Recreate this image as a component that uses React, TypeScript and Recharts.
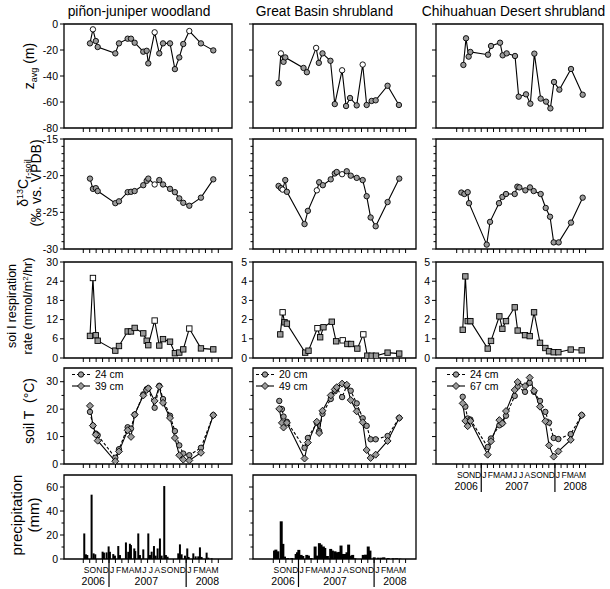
import React from 'react';
import { ComposedChart, Line, Bar, XAxis, YAxis, ReferenceArea, Legend } from 'recharts';

const FONT = '"Liberation Sans", Arial, Helvetica, sans-serif';

// ---------------- labels / ticks ----------------
const columnTitles = ['piñon-juniper woodland', 'Great Basin shrubland', 'Chihuahuan Desert shrubland'];
// x = months since 1 Jan 2006 (8 = 1 Sep 2006)
const monthBoundaries = [8, 9, 10, 11, 12, 13, 14, 15, 16, 17, 18, 19, 20, 21, 22, 23, 24, 25, 26, 27, 28, 29];
const monthCenters = [8.5, 9.5, 10.5, 11.5, 12.5, 13.5, 14.5, 15.5, 16.5, 17.5, 18.5, 19.5, 20.5, 21.5, 22.5, 23.5, 24.5, 25.5, 26.5, 27.5, 28.5];
const monthLetters = ['S', 'O', 'N', 'D', 'J', 'F', 'M', 'A', 'M', 'J', 'J', 'A', 'S', 'O', 'N', 'D', 'J', 'F', 'M', 'A', 'M'];
const yearLabels = ['2006', '2007', '2008'];
const yearCenters = [9.55, 17.8, 27.3];
const yearBreaks = [12, 24];

const zTicks = [0, -20, -40, -60, -80];
const d13cMajorTicks = [-15, -20, -25, -30];
const d13cMinorTicks = [-16, -17, -18, -19, -21, -22, -23, -24, -26, -27, -28, -29];
const pjRespTicks = [0, 6, 12, 18, 24, 30];
const respTicks = [0, 1, 2, 3, 4, 5];
const tempMajorTicks = [0, 10, 20, 30];
const tempMinorTicks = [5, 15, 25];
const rainMajorTicks = [0, 20, 40, 60];
const rainMinorTicks = [10, 30, 50];

// ---------------- piñon-juniper woodland ----------------
const pjDates = [9.04, 9.5, 9.95, 10.24, 12.98, 13.55, 14.9, 15.42, 15.99, 17.33, 17.86, 18.11, 19.1, 19.82, 20.4, 21.49, 22.25, 22.93, 23.55, 24.49, 26.3, 28.22];
const pjZavg = [-14.9, -4.1, -13.1, -17.7, -22.6, -14.9, -11.3, -11.3, -14.4, -21.3, -20.6, -30.3, -6.4, -22.6, -14.9, -14.9, -34.7, -25.7, -15.4, -5.4, -14.9, -20.3];
const pjZavgOpen = [1, 12, 19];
const pjD13C = [-20.4, -21.8, -21.7, -22.1, -23.75, -23.5, -22.25, -22.2, -22.1, -21.3, -20.7, -20.4, -21.2, -20.6, -21.2, -21.8, -22.25, -23.1, -23.7, -24.1, -23.0, -20.5];
const pjD13COpen = [12];
const pjResp = [6.9, 25, 7.1, 5.4, 2.3, 3.75, 8.3, 8.3, 9.4, 7.7, 5.4, 4.0, 11.7, 3.9, 5.9, 5.1, 1.5, 1.7, 2.7, 9.2, 3.0, 2.7];
const pjRespOpen = [1, 12, 19];
const pjT24 = [19.0, 14.0, 11.1, 10.5, 2.3, 5.4, 13.4, 12.9, 18.0, 25.4, 27.3, 27.6, 20.5, 28.5, 23.7, 17.6, 12.0, 6.8, 3.8, 3.2, 5.9, 17.8];
const pjT39 = [21.2, 14.0, 10.7, 8.5, 1.0, 4.6, 12.3, 9.9, 18.0, 25.0, 27.0, 27.6, 23.0, 28.3, 22.3, 16.8, 9.5, 3.2, 1.6, 1.3, 4.1, 17.8];
const pjRainX = [8.16, 8.42, 8.63, 9.30, 9.61, 9.87, 11.01, 11.22, 11.63, 11.95, 12.15, 12.67, 12.93, 13.45, 13.71, 14.64, 15.0, 15.26, 15.42, 15.94, 16.09, 16.56, 16.82, 17.34, 18.12, 18.38, 18.64, 19.0, 19.26, 19.57, 19.93, 20.19, 20.60, 20.86, 21.12, 22.78, 23.04, 23.30, 23.82, 24.18, 24.39, 25.12, 25.48, 25.89, 26.15, 26.41, 27.19, 27.45, 27.97];
const pjRain = [21.3, 3.9, 3.3, 53.6, 4.7, 3.9, 6.1, 5.3, 5.5, 10.5, 6.0, 4.1, 2.8, 10.8, 3.3, 13.8, 6.0, 12.7, 11.6, 8.8, 6.6, 21.3, 3.3, 8.0, 21.3, 3.3, 6.1, 10.8, 2.8, 8.8, 17.1, 2.8, 60.8, 3.3, 1.9, 4.7, 12.2, 3.9, 2.8, 8.8, 1.7, 4.7, 2.2, 2.2, 9.7, 1.7, 5.3, 1.1, 0.6];

// ---------------- Great Basin shrubland ----------------
const gbZavgX = [8.84, 9.21, 9.63, 9.90, 12.80, 13.33, 14.80, 15.23, 15.81, 17.07, 17.76, 18.92, 19.55, 20.18, 21.24, 22.19, 22.82, 23.61, 24.25, 26.14, 27.94];
const gbZavg = [-45.5, -22.6, -29.1, -25.7, -33.8, -37.1, -18.4, -29.9, -22.6, -28.3, -61.6, -35.6, -63.1, -56.9, -62.6, -31.2, -62.3, -59.2, -58.7, -47.5, -62.3];
const gbZavgOpen = [1, 6, 11, 15];
const gbD13CX = [8.84, 9.21, 9.48, 9.90, 10.16, 12.96, 13.49, 14.91, 15.28, 15.86, 17.12, 17.76, 18.07, 18.92, 19.66, 20.29, 21.24, 22.19, 22.82, 23.45, 24.25, 26.14, 27.99];
const gbD13C = [-21.4, -21.7, -21.9, -20.6, -22.2, -26.6, -24.8, -22.0, -20.9, -21.3, -20.5, -19.7, -19.5, -19.8, -19.4, -20.0, -20.3, -20.6, -22.8, -25.7, -26.9, -23.6, -20.4];
const gbD13COpen = [2, 7, 13];
const gbRespX = [9.11, 9.48, 9.79, 10.16, 13.06, 13.59, 15.01, 15.44, 15.96, 17.28, 17.97, 19.02, 19.76, 20.34, 21.34, 22.29, 22.93, 23.61, 24.30, 26.14, 27.99];
const gbResp = [1.23, 2.38, 1.86, 1.79, 0.28, 0.38, 1.55, 1.08, 1.6, 1.89, 0.87, 0.92, 0.73, 0.73, 0.49, 1.23, 0.12, 0.12, 0.12, 0.28, 0.23];
const gbRespOpen = [1, 6, 11, 15];
const gbTX = [8.95, 9.37, 9.63, 10.16, 12.96, 13.49, 14.91, 15.28, 15.81, 17.12, 17.76, 18.07, 18.92, 19.66, 20.29, 21.24, 22.19, 22.82, 23.45, 24.25, 26.14, 27.99];
const gbT20 = [23.0, 20.0, 17.3, 15.4, 5.9, 9.5, 15.0, 12.0, 18.3, 23.7, 26.5, 27.8, 24.4, 28.5, 26.7, 22.1, 16.7, 13.9, 9.0, 9.0, 10.2, 16.8];
const gbT49 = [20.1, 15.0, 13.3, 15.0, 2.0, 7.8, 15.4, 11.3, 19.4, 25.0, 27.2, 28.0, 29.3, 28.9, 23.3, 19.2, 15.2, 5.1, 2.2, 3.4, 8.4, 16.8];
const gbRainX = [8.21, 8.42, 8.74, 9.27, 9.53, 9.79, 10.32, 10.95, 11.64, 11.85, 12.06, 12.43, 12.69, 13.33, 13.59, 14.01, 14.65, 14.91, 15.33, 15.59, 15.96, 16.18, 16.60, 17.12, 17.39, 17.81, 18.07, 18.44, 18.76, 19.02, 19.39, 19.71, 19.97, 20.29, 20.61, 20.97, 22.29, 22.66, 23.08, 23.35, 24.03, 24.67, 25.19, 25.56, 26.25, 27.04, 27.57, 28.10];
const gbRain = [7.0, 7.8, 6.4, 31.4, 12.6, 2.0, 0.8, 0.8, 4.2, 5.6, 7.6, 3.4, 2.5, 3.4, 2.8, 0.8, 10.4, 2.8, 13.2, 12.0, 10.4, 9.2, 2.5, 8.4, 7.0, 6.4, 5.6, 5.9, 11.2, 4.2, 4.2, 5.6, 12.0, 2.8, 3.4, 0.6, 3.4, 3.6, 10.4, 7.0, 1.4, 1.1, 1.1, 1.4, 0.8, 0.6, 0.6, 0.3];

// ---------------- Chihuahuan Desert shrubland ----------------
const cdZavgX = [9.09, 9.52, 9.95, 10.23, 13.10, 13.59, 15.06, 15.49, 16.14, 17.50, 18.10, 19.29, 20.0, 20.65, 21.68, 22.55, 23.26, 23.85, 24.72, 26.62, 28.52];
const cdZavg = [-31.5, -11.0, -25.1, -21.5, -23.6, -16.9, -14.4, -24.1, -22.6, -24.6, -55.9, -54.1, -61.3, -22.8, -57.4, -59.7, -64.9, -44.6, -50.5, -34.6, -54.4];
const cdD13CX = [8.76, 9.25, 9.79, 10.01, 12.89, 13.43, 14.89, 15.44, 16.03, 17.45, 17.88, 18.21, 19.18, 19.94, 20.54, 21.68, 22.5, 23.2, 23.8, 24.61, 26.62, 28.52];
const cdD13C = [-22.3, -22.5, -22.25, -23.75, -29.4, -26.3, -23.75, -22.9, -22.5, -22.5, -21.5, -21.6, -22.0, -21.6, -22.1, -22.5, -24.4, -25.6, -29.1, -29.1, -26.4, -23.0];
const cdRespX = [8.98, 9.41, 9.79, 10.23, 13.05, 13.59, 14.95, 15.44, 16.03, 17.45, 17.93, 19.13, 19.89, 20.6, 21.57, 22.44, 23.04, 23.80, 24.56, 26.57, 28.36];
const cdResp = [1.47, 4.25, 1.92, 1.92, 0.49, 0.89, 2.17, 1.52, 1.92, 2.64, 1.43, 1.19, 1.14, 2.38, 0.79, 0.52, 0.35, 0.30, 0.30, 0.44, 0.40];
const cdTX = [8.98, 9.41, 9.79, 10.23, 13.05, 13.59, 14.95, 15.44, 16.03, 17.45, 17.93, 19.13, 19.89, 20.6, 21.57, 22.44, 23.04, 23.80, 24.56, 26.57, 28.36];
const cdT24 = [24.5, 20.9, 16.6, 16.2, 6.2, 9.3, 14.1, 15.0, 17.6, 24.8, 28.2, 26.3, 29.6, 26.3, 23.0, 19.0, 15.1, 9.5, 9.1, 10.9, 17.8];
const cdT67 = [22.1, 15.7, 13.8, 15.7, 3.4, 8.3, 16.0, 14.8, 19.3, 27.0, 29.9, 28.4, 31.5, 26.7, 20.9, 15.6, 6.8, 2.7, 4.6, 8.8, 17.8];

// ---------------- helpers ----------------
type Pt = { x: number; y: number; open: boolean };
const pts = (xs: number[], ys: number[], open: number[] = []): Pt[] =>
  xs.map((x, i) => ({ x, y: ys[i], open: open.includes(i) }));
const rain = (xs: number[], vs: number[]) => xs.map((x, i) => ({ x, v: vs[i] }));

// ---------------- layout ----------------
const ML = 64;
const MR = 7;
const colX = [[64, 232], [253, 416], [436, 603]];
const rowY = [[24, 128], [139, 249], [262, 358], [368, 464], [475, 559]];
const xDomains: [number, number][] = [[5.0, 31.13], [4.78, 30.65], [4.63, 31.83]];
const titleShift = [-9, -10, -6];

type Shape = 'circle' | 'square' | 'diamond';

function Marker({ cx, cy, shape, open }: { cx: number; cy: number; shape: Shape; open?: boolean }) {
  if (cx == null || cy == null || isNaN(cx) || isNaN(cy)) return null;
  const fill = open ? '#ffffff' : '#9a9a9a';
  if (shape === 'square') {
    return <rect x={cx - 2.7} y={cy - 2.7} width={5.4} height={5.4} fill={fill} stroke="#000" strokeWidth={0.9} />;
  }
  if (shape === 'diamond') {
    const s = 3.5;
    return (
      <polygon
        points={`${cx},${cy - s} ${cx + s},${cy} ${cx},${cy + s} ${cx - s},${cy}`}
        fill={fill}
        stroke="#000"
        strokeWidth={0.9}
      />
    );
  }
  return <circle cx={cx} cy={cy} r={2.7} fill={fill} stroke="#000" strokeWidth={0.9} />;
}

const TickMark = (p: any) => <line x1={p.x} x2={p.x} y1={p.y} y2={p.y + 4} stroke="#000" strokeWidth={1} />;
const MonthLabel = (p: any) => (
  <text x={p.x} y={p.y + 12.5} textAnchor="middle" fontSize={8.5} fontFamily={FONT} fill="#000">
    {monthLetters[monthCenters.indexOf(p.payload.value)]}
  </text>
);
const YearLabel = (p: any) => (
  <text x={p.x} y={p.y + 23} textAnchor="middle" fontSize={10.5} fontFamily={FONT} fill="#000">
    {yearLabels[yearCenters.indexOf(p.payload.value)]}
  </text>
);
const BreakLine = (p: any) => <line x1={p.x} x2={p.x} y1={p.y - 3} y2={p.y + 26} stroke="#000" strokeWidth={1.2} />;

const makeYTick = (major: number[], showLabels: boolean) => (p: any) => {
  const v = p.payload.value;
  const isMajor = major.includes(v);
  const len = isMajor ? 4 : 2.5;
  return (
    <g>
      <line x1={p.x - len} x2={p.x} y1={p.y} y2={p.y} stroke="#000" strokeWidth={1} />
      {isMajor && showLabels ? (
        <text x={p.x - len - 2} y={p.y} dy="0.35em" textAnchor="end" fontSize={10.5} fontFamily={FONT} fill="#000">
          {v}
        </text>
      ) : null}
    </g>
  );
};

const makeBarShape = (w: number) => (p: any) => {
  if (p.height == null || isNaN(p.height) || p.height <= 0) return <g />;
  return <rect x={p.x + p.width / 2 - w / 2} y={p.y} width={w} height={p.height} fill="#000" />;
};

type Series = { data: Pt[]; shape: Shape; dashed?: boolean };
type LegendItem = { label: string; shape: Shape; dashed: boolean };

function LegendBox({ items }: { items: LegendItem[] }) {
  return (
    <svg width={70} height={26} style={{ display: 'block' }}>
      {items.map((it, i) => {
        const y = 5.5 + i * 11.5;
        return (
          <g key={it.label}>
            <line x1={0} x2={18} y1={y} y2={y} stroke="#000" strokeWidth={1.1} strokeDasharray={it.dashed ? '3 2' : undefined} />
            <Marker cx={9} cy={y} shape={it.shape} open={false} />
            <text x={23} y={y} dy="0.35em" fontSize={10.5} fontFamily={FONT} fill="#000">
              {it.label}
            </text>
          </g>
        );
      })}
    </svg>
  );
}

type PanelProps = {
  col: number;
  row: number;
  yDomain: [number, number];
  yMajor: number[];
  yMinor?: number[];
  yLabels: boolean;
  series?: Series[];
  bars?: { x: number; v: number }[];
  barSize?: number;
  legend?: LegendItem[];
  legendX?: number;
  bottomLabels?: boolean;
  yTitle?: React.ReactNode;
};

function Panel(props: PanelProps) {
  const { col, row, yDomain, yMajor, yMinor = [], yLabels, series = [], bars, barSize = 2, legend, legendX = 8, bottomLabels = false, yTitle } = props;
  const [L, R] = colX[col];
  const [T, B] = rowY[row];
  const MT = row === 0 ? T : 6;
  const MB = bottomLabels ? 32 : 8;
  const ox = L - ML;
  const oy = T - MT;
  const width = R - L + ML + MR;
  const height = B - T + MT + MB;
  const xDomain = xDomains[col];
  const nAxes = bottomLabels ? 4 : 1;
  const yTicks = [...yMajor, ...yMinor].sort((a, b) => a - b);
  const title = row === 0 ? columnTitles[col] : null;

  const labelContent = () => (
    <g transform={`translate(${-ox},${-oy})`} fontFamily={FONT} fill="#000">
      {title ? (
        <text x={(L + R) / 2 + titleShift[col]} y={16} textAnchor="middle" fontSize={13.8} fontFamily={FONT}>
          {title}
        </text>
      ) : null}
      {yTitle}
    </g>
  );

  return (
    <div style={{ position: 'absolute', left: ox, top: oy, width, height }}>
      <ComposedChart
        width={width}
        height={height}
        data={bars ?? []}
        margin={{ top: MT, right: MR, bottom: MB - nAxes, left: 0 }}
      >
        <XAxis
          xAxisId={0}
          dataKey="x"
          type="number"
          domain={xDomain}
          allowDataOverflow
          ticks={monthBoundaries}
          interval={0}
          height={1}
          axisLine={false}
          tickLine={false}
          tickSize={0}
          tickMargin={0}
          tick={TickMark}
        />
        {bottomLabels ? (
          <XAxis xAxisId="lab" dataKey="x" type="number" domain={xDomain} allowDataOverflow ticks={monthCenters} interval={0} height={1} axisLine={false} tickLine={false} tickSize={0} tickMargin={0} tick={MonthLabel} />
        ) : null}
        {bottomLabels ? (
          <XAxis xAxisId="yr" dataKey="x" type="number" domain={xDomain} allowDataOverflow ticks={yearCenters} interval={0} height={1} axisLine={false} tickLine={false} tickSize={0} tickMargin={0} tick={YearLabel} />
        ) : null}
        {bottomLabels ? (
          <XAxis xAxisId="sep" dataKey="x" type="number" domain={xDomain} allowDataOverflow ticks={yearBreaks} interval={0} height={1} axisLine={false} tickLine={false} tickSize={0} tickMargin={0} tick={BreakLine} />
        ) : null}
        <YAxis
          yAxisId={0}
          type="number"
          domain={yDomain}
          allowDataOverflow
          ticks={yTicks}
          interval={0}
          width={ML}
          axisLine={false}
          tickLine={false}
          tickSize={0}
          tickMargin={0}
          tick={makeYTick(yMajor, yLabels)}
          label={{ content: labelContent }}
        />
        <ReferenceArea
          xAxisId={0}
          yAxisId={0}
          x1={xDomain[0]}
          x2={xDomain[1]}
          y1={yDomain[0]}
          y2={yDomain[1]}
          fill="none"
          fillOpacity={0}
          stroke="#000"
          strokeWidth={1.3}
          ifOverflow="visible"
        />
        {bars ? (
          <Bar xAxisId={0} yAxisId={0} dataKey="v" fill="#000" barSize={barSize} shape={makeBarShape(barSize)} isAnimationActive={false} />
        ) : null}
        {series.map((s, si) => (
          <Line
            key={si}
            xAxisId={0}
            yAxisId={0}
            data={s.data}
            dataKey="y"
            type="linear"
            stroke="#000"
            strokeWidth={1.1}
            strokeDasharray={s.dashed ? '3 2' : undefined}
            dot={(dp: any) => <Marker key={`m${si}-${dp.index}`} cx={dp.cx} cy={dp.cy} shape={s.shape} open={dp.payload?.open} />}
            activeDot={false}
            isAnimationActive={false}
          />
        ))}
        {legend ? (
          <Legend
            layout="vertical"
            align="center"
            verticalAlign="middle"
            wrapperStyle={{ left: ML + legendX, top: MT + 1, width: 'auto', height: 'auto', lineHeight: 0 }}
            content={() => <LegendBox items={legend} />}
          />
        ) : null}
      </ComposedChart>
    </div>
  );
}

// ---------------- axis titles (page coordinates) ----------------
const rot = (x: number, y: number) => `rotate(-90 ${x} ${y})`;
const yTitleZ = (
  <text x={29} y={66} transform={rot(29, 66)} textAnchor="middle" dy="0.35em" fontSize={14} fontFamily={FONT}>
    z<tspan fontSize={9} dy={3}>avg</tspan>
    <tspan dy={-3}> (m)</tspan>
  </text>
);
const yTitleD13C = (
  <g>
    <text x={23} y={183} transform={rot(23, 183)} textAnchor="middle" dy="0.35em" fontSize={14} fontFamily={FONT}>
      δ<tspan fontSize={9} dy={-5}>13</tspan>
      <tspan dy={5}>C</tspan>
      <tspan fontSize={9} dy={3}>r-soil</tspan>
    </text>
    <text x={36} y={183} transform={rot(36, 183)} textAnchor="middle" dy="0.35em" fontSize={14} fontFamily={FONT}>
      (‰ vs. VPDB)
    </text>
  </g>
);
const yTitleResp = (
  <g>
    <text x={12} y={306} transform={rot(12, 306)} textAnchor="middle" dy="0.35em" fontSize={12.5} fontFamily={FONT}>
      soi l respiration
    </text>
    <text x={28} y={306} transform={rot(28, 306)} textAnchor="middle" dy="0.35em" fontSize={12.5} fontFamily={FONT}>
      rate (mmol/m<tspan fontSize={8} dy={-4}>2</tspan>
      <tspan dy={4}>/hr)</tspan>
    </text>
  </g>
);
const yTitleT = (
  <text x={29} y={411} transform={rot(29, 411)} textAnchor="middle" dy="0.35em" fontSize={14} fontFamily={FONT}>
    {'soil T\u00a0\u00a0(°C)'}
  </text>
);
const yTitleRain = (
  <g>
    <text x={17} y={515} transform={rot(17, 515)} textAnchor="middle" dy="0.35em" fontSize={15} fontFamily={FONT}>
      precipitation
    </text>
    <text x={34} y={515} transform={rot(34, 515)} textAnchor="middle" dy="0.35em" fontSize={15} fontFamily={FONT}>
      (mm)
    </text>
  </g>
);

export default function App() {
  return (
    <div style={{ position: 'absolute', left: 0, top: 0, width: 610, height: 589, background: '#fff', overflow: 'hidden' }}>
      {/* piñon-juniper woodland */}
      <Panel col={0} row={0} yDomain={[-80, 0]} yMajor={zTicks} yLabels yTitle={yTitleZ}
        series={[{ data: pts(pjDates, pjZavg, pjZavgOpen), shape: 'circle' }]} />
      <Panel col={0} row={1} yDomain={[-30, -15]} yMajor={d13cMajorTicks} yMinor={d13cMinorTicks} yLabels yTitle={yTitleD13C}
        series={[{ data: pts(pjDates, pjD13C, pjD13COpen), shape: 'circle' }]} />
      <Panel col={0} row={2} yDomain={[0, 30]} yMajor={pjRespTicks} yLabels yTitle={yTitleResp}
        series={[{ data: pts(pjDates, pjResp, pjRespOpen), shape: 'square' }]} />
      <Panel col={0} row={3} yDomain={[0, 35]} yMajor={tempMajorTicks} yMinor={tempMinorTicks} yLabels yTitle={yTitleT}
        series={[
          { data: pts(pjDates, pjT24), shape: 'circle', dashed: true },
          { data: pts(pjDates, pjT39), shape: 'diamond' },
        ]}
        legend={[{ label: '24 cm', shape: 'circle', dashed: true }, { label: '39 cm', shape: 'diamond', dashed: false }]}
        legendX={8} />
      <Panel col={0} row={4} yDomain={[0, 70]} yMajor={rainMajorTicks} yMinor={rainMinorTicks} yLabels yTitle={yTitleRain}
        bars={rain(pjRainX, pjRain)} barSize={2} bottomLabels />

      {/* Great Basin shrubland */}
      <Panel col={1} row={0} yDomain={[-80, 0]} yMajor={zTicks} yLabels={false}
        series={[{ data: pts(gbZavgX, gbZavg, gbZavgOpen), shape: 'circle' }]} />
      <Panel col={1} row={1} yDomain={[-30, -15]} yMajor={d13cMajorTicks} yMinor={d13cMinorTicks} yLabels={false}
        series={[{ data: pts(gbD13CX, gbD13C, gbD13COpen), shape: 'circle' }]} />
      <Panel col={1} row={2} yDomain={[0, 5]} yMajor={respTicks} yLabels
        series={[{ data: pts(gbRespX, gbResp, gbRespOpen), shape: 'square' }]} />
      <Panel col={1} row={3} yDomain={[0, 35]} yMajor={tempMajorTicks} yMinor={tempMinorTicks} yLabels={false}
        series={[
          { data: pts(gbTX, gbT20), shape: 'circle', dashed: true },
          { data: pts(gbTX, gbT49), shape: 'diamond' },
        ]}
        legend={[{ label: '20 cm', shape: 'circle', dashed: true }, { label: '49 cm', shape: 'diamond', dashed: false }]}
        legendX={3} />
      <Panel col={1} row={4} yDomain={[0, 70]} yMajor={rainMajorTicks} yMinor={rainMinorTicks} yLabels={false}
        bars={rain(gbRainX, gbRain)} barSize={3} bottomLabels />

      {/* Chihuahuan Desert shrubland */}
      <Panel col={2} row={0} yDomain={[-80, 0]} yMajor={zTicks} yLabels={false}
        series={[{ data: pts(cdZavgX, cdZavg), shape: 'circle' }]} />
      <Panel col={2} row={1} yDomain={[-30, -15]} yMajor={d13cMajorTicks} yMinor={d13cMinorTicks} yLabels={false}
        series={[{ data: pts(cdD13CX, cdD13C), shape: 'circle' }]} />
      <Panel col={2} row={2} yDomain={[0, 5]} yMajor={respTicks} yLabels
        series={[{ data: pts(cdRespX, cdResp), shape: 'square' }]} />
      <Panel col={2} row={3} yDomain={[0, 35]} yMajor={tempMajorTicks} yMinor={tempMinorTicks} yLabels={false}
        series={[
          { data: pts(cdTX, cdT24), shape: 'circle', dashed: true },
          { data: pts(cdTX, cdT67), shape: 'diamond' },
        ]}
        legend={[{ label: '24 cm', shape: 'circle', dashed: true }, { label: '67 cm', shape: 'diamond', dashed: false }]}
        legendX={11} bottomLabels />
    </div>
  );
}
